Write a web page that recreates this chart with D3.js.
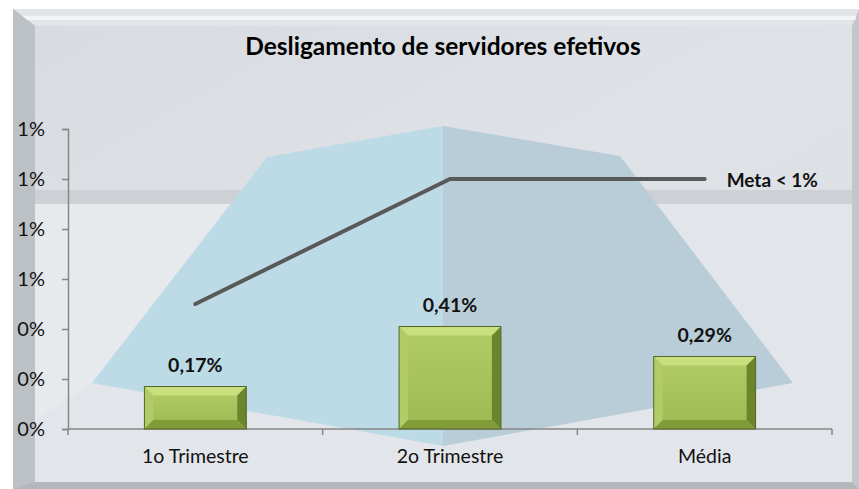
<!DOCTYPE html>
<html>
<head>
<meta charset="utf-8">
<script src="https://cdn.jsdelivr.net/npm/d3@7"></script>
<style>
  body { margin: 0; background: #fff; }
  text { font-family: Lato, "Open Sans", sans-serif; }
</style>
</head>
<body>
<div id="chart"></div>
<script>
var width = 859,
	height = 489;

var categories = ["1o Trimestre", "2o Trimestre", "Média"];
var valores = [0.0017, 0.0041, 0.0029];
var meta = [0.005, 0.010, 0.010];
var yTicks = [0, 0.002, 0.004, 0.006, 0.008, 0.010, 0.012];
var titulo = "Desligamento de servidores efetivos";
var metaLabel = "Meta < 1%";

var ptBR = d3.formatLocale({decimal: ",", thousands: ".", grouping: [3], currency: ["R$", ""]});
var pct0 = ptBR.format(".0%"),
	pct2 = ptBR.format(".2%");

var plot = {left: 68, right: 832, top: 129, bottom: 429};

var svg = d3.select("#chart").append("svg")
	.attr("width", width)
	.attr("height", height);

var defs = svg.append("defs");

var g1 = defs.append("linearGradient").attr("id", "inner").attr("x1", 0).attr("y1", 0).attr("x2", 1).attr("y2", 1);
g1.append("stop").attr("offset", 0).attr("stop-color", "#d8dbdf");
g1.append("stop").attr("offset", 0.5).attr("stop-color", "#dfe2e6");
g1.append("stop").attr("offset", 1).attr("stop-color", "#dadde1");

var g2 = defs.append("linearGradient").attr("id", "barface").attr("x1", 0).attr("y1", 0).attr("x2", 0).attr("y2", 1);
g2.append("stop").attr("offset", 0).attr("stop-color", "#b3cd66");
g2.append("stop").attr("offset", 1).attr("stop-color", "#9cb952");

// frame + background panel
svg.append("rect").attr("x", 13).attr("y", 9).attr("width", 846).attr("height", 480).attr("fill", "#c3c7cc");
svg.append("polygon").attr("points", "13,9 859,9 852,26 35,26").attr("fill", "#e1e5e9");
svg.append("rect").attr("x", 20).attr("y", 16).attr("width", 836).attr("height", 4).attr("fill", "#f6f8fa").attr("opacity", 0.8);
svg.append("polygon").attr("points", "13,9 35,26 35,482 13,489").attr("fill", "#bcc1c6");
svg.append("polygon").attr("points", "13,489 35,482 852,482 859,489").attr("fill", "#b4b8bd");
svg.append("rect").attr("x", 35).attr("y", 26).attr("width", 817).attr("height", 456).attr("fill", "url(#inner)");
// horizontal band + lighter lower area
svg.append("rect").attr("x", 35).attr("y", 190).attr("width", 817).attr("height", 14).attr("fill", "#cdd1d6");
svg.append("rect").attr("x", 35).attr("y", 204).attr("width", 817).attr("height", 278).attr("fill", "#e2e5e9");
svg.append("polygon").attr("points", "35,204 230,204 92,383 35,420").attr("fill", "#e7eaed");

// decorative blue pyramid
svg.append("polygon").attr("points", "267,157 443,126 443,446 92,383").attr("fill", "#bddbe6");
svg.append("polygon").attr("points", "443,126 620,156 793,383 443,446").attr("fill", "#b9cdd9");

var x = d3.scaleBand()
	.domain(categories)
	.range([plot.left, plot.right])
	.paddingInner(0.6)
	.paddingOuter(0.3);

var y = d3.scaleLinear()
	.domain([0, 0.012])
	.range([plot.bottom, plot.top]);

// title
svg.append("text")
	.attr("x", 443)
	.attr("y", 55)
	.attr("text-anchor", "middle")
	.attr("font-size", 24.5)
	.attr("font-weight", "bold")
	.attr("fill", "#000")
	.text(titulo);

// y axis
var yAxis = svg.append("g")
	.attr("transform", "translate(" + plot.left + ",0)")
	.call(d3.axisLeft(y).tickValues(yTicks).tickFormat(pct0).tickSize(6).tickPadding(17));
yAxis.selectAll("path, line").attr("stroke", "#868686").attr("stroke-width", 1.5);
yAxis.selectAll("text").attr("font-size", 20).attr("fill", "#111").style("font-family", "Lato, sans-serif");

// x axis: baseline, boundary ticks, labels
var step = x.step();
var bounds = d3.range(categories.length + 1).map(function(i) { return plot.left + i * step; });
svg.append("line")
	.attr("x1", plot.left).attr("x2", plot.right)
	.attr("y1", y(0)).attr("y2", y(0))
	.attr("stroke", "#868686").attr("stroke-width", 1.5);
svg.selectAll(".xtick")
	.data(bounds)
	.enter().append("line")
	.attr("class", "xtick")
	.attr("x1", function(d) { return d; }).attr("x2", function(d) { return d; })
	.attr("y1", y(0)).attr("y2", y(0) + 6)
	.attr("stroke", "#868686").attr("stroke-width", 1.5);
svg.selectAll(".xlabel")
	.data(categories)
	.enter().append("text")
	.attr("class", "xlabel")
	.attr("x", function(d) { return x(d) + x.bandwidth() / 2; })
	.attr("y", y(0) + 34)
	.attr("text-anchor", "middle")
	.attr("font-size", 19.5)
	.attr("fill", "#111")
	.text(function(d) { return d; });

// bevelled bars
var bv = 9;
var bars = svg.selectAll(".bar")
	.data(valores)
	.enter().append("g")
	.attr("class", "bar")
	.attr("transform", function(d, i) { return "translate(" + x(categories[i]) + "," + y(d) + ")"; });

function face(sel, pts, color) {
	sel.append("polygon")
		.attr("points", function(d) {
			var w = x.bandwidth(), h = y(0) - y(d);
			return pts(w, h).map(function(p) { return p.join(","); }).join(" ");
		})
		.attr("fill", color);
}
face(bars, function(w, h) { return [[0, 0], [w, 0], [w, h], [0, h]]; }, "url(#barface)");
face(bars, function(w, h) { return [[0, 0], [w, 0], [w - bv, bv], [bv, bv]]; }, "#cadf7e");
face(bars, function(w, h) { return [[0, 0], [bv, bv], [bv, h - bv], [0, h]]; }, "#b2cb68");
face(bars, function(w, h) { return [[w, 0], [w, h], [w - bv, h - bv], [w - bv, bv]]; }, "#6c852c");
face(bars, function(w, h) { return [[0, h], [bv, h - bv], [w - bv, h - bv], [w, h]]; }, "#809b38");
bars.append("rect")
	.attr("width", x.bandwidth())
	.attr("height", function(d) { return y(0) - y(d); })
	.attr("fill", "none")
	.attr("stroke", "#52662a")
	.attr("stroke-width", 1);

// value labels
svg.selectAll(".vlabel")
	.data(valores)
	.enter().append("text")
	.attr("class", "vlabel")
	.attr("x", function(d, i) { return x(categories[i]) + x.bandwidth() / 2; })
	.attr("y", function(d) { return y(d) - 15; })
	.attr("text-anchor", "middle")
	.attr("font-size", 19.5)
	.attr("font-weight", "bold")
	.attr("fill", "#111")
	.text(function(d) { return pct2(d); });

// meta line
var line = d3.line()
	.x(function(d, i) { return x(categories[i]) + x.bandwidth() / 2; })
	.y(function(d) { return y(d); });
svg.append("path")
	.datum(meta)
	.attr("d", line)
	.attr("fill", "none")
	.attr("stroke", "#595959")
	.attr("stroke-width", 4)
	.attr("stroke-linecap", "round");

svg.append("text")
	.attr("x", x(categories[2]) + x.bandwidth() / 2 + 22)
	.attr("y", y(meta[2]) + 8)
	.attr("font-size", 19)
	.attr("font-weight", "bold")
	.attr("fill", "#111")
	.text(metaLabel);
</script>
</body>
</html>
